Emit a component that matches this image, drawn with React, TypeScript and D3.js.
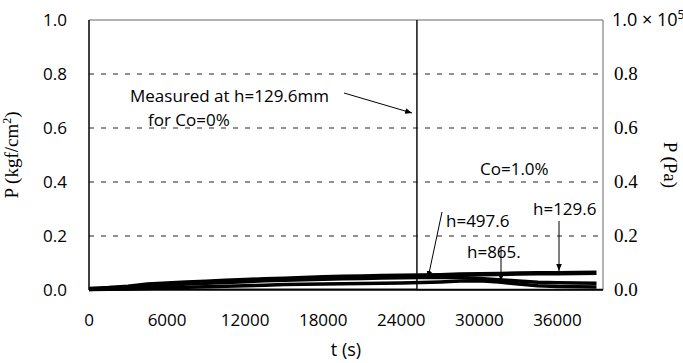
import { line, scaleLinear } from "d3";

// time grid (s) shared by the Co=1.0% records
const times = [
  0, 1500, 3000, 4500, 6000, 7500, 9000, 10500, 12000, 13500, 15000, 16500, 18000, 19500,
  21000, 22500, 24000, 25500, 27000, 28500, 30000, 31500, 33000, 34500, 36000, 37500, 39000,
];
// pressure (kgf/cm2) at each depth
const h129 = [
  0.004, 0.007, 0.012, 0.02, 0.024, 0.028, 0.031, 0.034, 0.037, 0.04, 0.042, 0.044, 0.047, 0.049,
  0.05, 0.052, 0.053, 0.054, 0.055, 0.057, 0.058, 0.059, 0.061, 0.062, 0.062, 0.063, 0.064,
];
const h497 = [
  0.003, 0.005, 0.009, 0.014, 0.018, 0.022, 0.025, 0.028, 0.031, 0.034, 0.036, 0.038, 0.04, 0.042,
  0.043, 0.044, 0.045, 0.046, 0.047, 0.046, 0.043, 0.038, 0.033, 0.029, 0.027, 0.026, 0.025,
];
const h865 = [
  0.002, 0.003, 0.004, 0.006, 0.008, 0.01, 0.012, 0.014, 0.016, 0.018, 0.02, 0.021, 0.022, 0.023,
  0.024, 0.025, 0.026, 0.028, 0.03, 0.033, 0.034, 0.03, 0.022, 0.016, 0.013, 0.012, 0.011,
];
// Co=0% record at h=129.6mm
const co0Times = [0, 25200, 25200, 25200, 39500];
const co0Values = [0.003, 0.003, 1.0, 0.002, 0.002];

const xTicks = [0, 6000, 12000, 18000, 24000, 30000, 36000];
const yTicks = [0, 0.2, 0.4, 0.6, 0.8, 1.0];
const rightLabels = ["0.0", "0.2", "0.4", "0.6", "0.8"];

const sans = "'Open Sans', sans-serif";
const serif = "'Liberation Serif', serif";

export default function App() {
  const W = 683;
  const H = 363;
  const left = 89;
  const right = 603;
  const top = 20;
  const bottom = 290;

  const x = scaleLinear().domain([0, 39500]).range([left, right]);
  const y = scaleLinear().domain([0, 1]).range([bottom, top]);

  const mk = line<[number, number]>()
    .x((d) => x(d[0]))
    .y((d) => y(d[1]));

  const zipT = (vals: number[]) => times.map((t, i) => [t, vals[i]] as [number, number]);
  const co0 = co0Times.map((t, i) => [t, co0Values[i]] as [number, number]);

  return (
    <svg width={W} height={H} style={{ position: "absolute", left: 0, top: 0 }}>
      <rect x={0} y={0} width={W} height={H} fill="#fff" />
      {yTicks.slice(1, -1).map((v) => (
        <line key={v} x1={left} x2={right} y1={y(v)} y2={y(v)} stroke="#222" strokeDasharray="5,7" />
      ))}
      <line x1={left} x2={right} y1={top} y2={top} stroke="#666" />
      <line x1={right} x2={right} y1={top} y2={bottom} stroke="#666" />

      <path d={mk(co0) ?? ""} fill="none" stroke="#111" strokeWidth={1.5} />
      <path d={mk(zipT(h865)) ?? ""} fill="none" stroke="#000" strokeWidth={3.5} />
      <path d={mk(zipT(h497)) ?? ""} fill="none" stroke="#000" strokeWidth={3.5} />
      <path d={mk(zipT(h129)) ?? ""} fill="none" stroke="#000" strokeWidth={4.5} />

      <line x1={left} x2={left} y1={top} y2={bottom} stroke="#000" strokeWidth={1.5} />
      <line x1={left} x2={right} y1={bottom} y2={bottom} stroke="#000" strokeWidth={1.5} />

      {yTicks.map((v) => (
        <text key={v} x={67} y={y(v) + 6} textAnchor="end" fontFamily={sans} fontSize={17}>
          {v.toFixed(1)}
        </text>
      ))}
      {rightLabels.map((s, i) => (
        <text key={s} x={614} y={y(yTicks[i]) + 6} fontFamily={serif} fontSize={19}>
          {s}
        </text>
      ))}
      <text x={612} y={y(1) + 6} fontFamily={sans} fontSize={18}>
        1.0 × 10<tspan dy={-7} fontSize={12}>5</tspan>
      </text>
      {xTicks.map((v) => (
        <text key={v} x={x(v)} y={326} textAnchor="middle" fontFamily={sans} fontSize={17}>
          {v}
        </text>
      ))}
      <text x={346} y={356} textAnchor="middle" fontFamily={sans} fontSize={18}>
        t (s)
      </text>
      <text transform="translate(18,155) rotate(-90)" textAnchor="middle" fontFamily={serif} fontSize={19}>
        P (kgf/cm<tspan dy={-7} fontSize={12}>2</tspan>
        <tspan dy={7}>)</tspan>
      </text>
      <text transform="translate(664,165) rotate(90)" textAnchor="middle" fontFamily={serif} fontSize={19}>
        P (Pa)
      </text>

      <defs>
        <marker id="ah" viewBox="0 0 10 10" refX={10} refY={5} markerWidth={7} markerHeight={7} orient="auto">
          <path d="M0,1 L10,5 L0,9 z" fill="#000" />
        </marker>
      </defs>
      <text x={130} y={102} fontFamily={sans} fontSize={17}>Measured at h=129.6mm</text>
      <text x={148} y={126} fontFamily={sans} fontSize={17}>for Co=0%</text>
      <line x1={344} x2={412} y1={93} y2={113} stroke="#000" markerEnd="url(#ah)" />

      <text x={480} y={175} fontFamily={sans} fontSize={17}>Co=1.0%</text>

      <text x={446} y={227} fontFamily={sans} fontSize={17}>h=497.6</text>
      <line x1={442} x2={428} y1={212} y2={278} stroke="#000" markerEnd="url(#ah)" />

      <text x={533} y={215} fontFamily={sans} fontSize={17}>h=129.6</text>
      <line x1={559} x2={559} y1={221} y2={271} stroke="#000" markerEnd="url(#ah)" />

      <text x={467} y={258} fontFamily={sans} fontSize={17}>h=865.</text>
      <line x1={501} x2={501} y1={246} y2={281} stroke="#000" markerEnd="url(#ah)" />
    </svg>
  );
}
